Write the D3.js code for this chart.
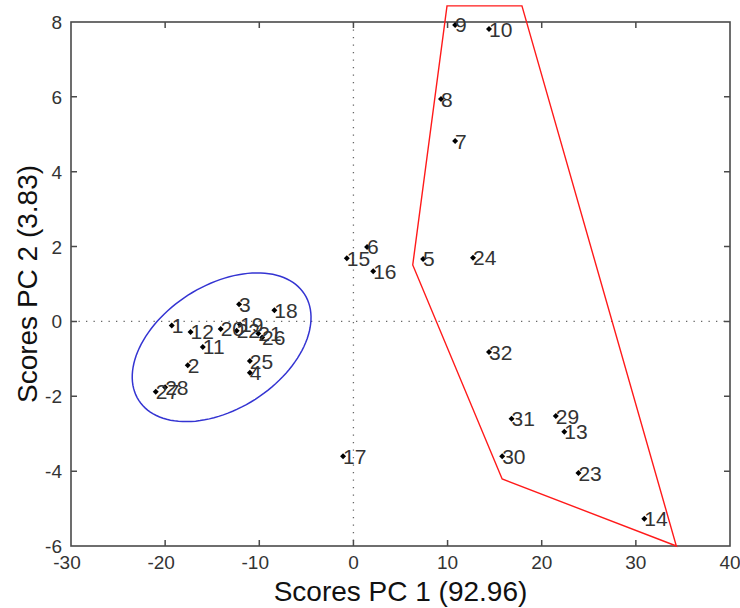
<!DOCTYPE html>
<html>
<head>
<meta charset="utf-8">
<script src="https://cdn.jsdelivr.net/npm/d3@7"></script>
<style>
  body { margin: 0; background: #fff; }
  text { font-family: Arial, "Liberation Sans", sans-serif; }
</style>
</head>
<body>
<svg id="chart" width="740" height="608"></svg>
<script>
"use strict";

// Step 1: PCA scores (sample number, PC1, PC2)
let sampleIds = [1, 2, 3, 4, 5, 6, 7, 8, 9, 10, 11, 12, 13, 14, 15, 16,
  17, 18, 19, 20, 21, 22, 23, 24, 25, 26, 27, 28, 29, 30, 31, 32];
let pc1 = [-19.3, -17.6, -12.15, -11.0, 7.4, 1.45, 10.8, 9.3, 10.8, 14.4, -16.0, -17.3,
  22.4, 30.9, -0.7, 2.1, -1.1, -8.4, -12.05, -14.1, -10.1, -12.4, 23.9, 12.7,
  -11.0, -9.7, -21.0, -20.0, 21.5, 15.8, 16.8, 14.4];
let pc2 = [-0.11, -1.17, 0.46, -1.37, 1.67, 1.99, 4.82, 5.94, 7.92, 7.81, -0.68, -0.28,
  -2.95, -5.27, 1.69, 1.34, -3.6, 0.3, -0.08, -0.2, -0.32, -0.25, -4.05, 1.7,
  -1.06, -0.43, -1.88, -1.76, -2.53, -3.6, -2.6, -0.82];

// Step 2: group outlines (red hull corners, blue ellipse centre + conjugate axes)
let hullX = [9.94, 17.9, 34.3, 15.8, 6.3];
let hullY = [8.43, 8.43, -6.0, -4.21, 1.51];
let ellipseCenter = [-14.0, -0.69];
let ellipseU = [8.8, 1.42];
let ellipseV = [-3.57, 1.39];

// Step 3: axis ticks
let xTicks = [-30, -20, -10, 0, 10, 20, 30, 40];
let yTicks = [-6, -4, -2, 0, 2, 4, 6, 8];

let svg = d3.select("#chart");
let plotLeft = 71, plotRight = 730, plotTop = 22, plotBottom = 546;

let xScale = d3.scaleLinear().domain([-30, 40]).range([plotLeft, plotRight]);
let yScale = d3.scaleLinear().domain([-6, 8]).range([plotBottom, plotTop]);

// Step 4: dotted zero lines
svg.append("line")
  .attr("x1", xScale(0)).attr("x2", xScale(0))
  .attr("y1", plotTop).attr("y2", plotBottom)
  .attr("stroke", "#666").attr("stroke-width", 1.3)
  .attr("stroke-dasharray", "1.3 6.2");
svg.append("line")
  .attr("x1", plotLeft).attr("x2", plotRight)
  .attr("y1", yScale(0)).attr("y2", yScale(0))
  .attr("stroke", "#666").attr("stroke-width", 1.3)
  .attr("stroke-dasharray", "1.3 6.2");

// Step 5: ellipse round the left group, built in data units
let ellipsePts = d3.range(0, 361, 3).map(a => {
  let t = a * Math.PI / 180;
  return [
    ellipseCenter[0] + ellipseU[0] * Math.cos(t) + ellipseV[0] * Math.sin(t),
    ellipseCenter[1] + ellipseU[1] * Math.cos(t) + ellipseV[1] * Math.sin(t)
  ];
});
svg.append("path")
  .attr("d", d3.line().x(d => xScale(d[0])).y(d => yScale(d[1]))(ellipsePts) + "Z")
  .attr("fill", "none")
  .attr("stroke", "#3434d2")
  .attr("stroke-width", 1.5);

// Step 6: frame with inward ticks on all four sides
svg.append("rect")
  .attr("x", plotLeft).attr("y", plotTop)
  .attr("width", plotRight - plotLeft).attr("height", plotBottom - plotTop)
  .attr("fill", "none").attr("stroke", "#4a4a4a").attr("stroke-width", 1.6);

let tickColor = "#4a4a4a";
svg.selectAll(".xtick")
  .data(xTicks.slice(1, -1))
  .enter().append("path")
  .attr("d", d => `M${xScale(d)},${plotBottom}v-6M${xScale(d)},${plotTop}v6`)
  .attr("stroke", tickColor).attr("stroke-width", 1.5);
svg.selectAll(".ytick")
  .data(yTicks.slice(1, -1))
  .enter().append("path")
  .attr("d", d => `M${plotLeft},${yScale(d)}h6M${plotRight},${yScale(d)}h-6`)
  .attr("stroke", tickColor).attr("stroke-width", 1.5);

// tick labels (minus sign hangs left of the tick, like the original)
svg.selectAll(".xlab")
  .data(xTicks)
  .enter().append("text")
  .attr("x", d => xScale(d) + (d < 0 ? -4 : 0))
  .attr("y", plotBottom + 23)
  .attr("text-anchor", "middle")
  .attr("fill", "#333")
  .style("font-size", "19px")
  .text(d => d);
svg.selectAll(".ylab")
  .data(yTicks)
  .enter().append("text")
  .attr("x", plotLeft - 9)
  .attr("y", d => yScale(d) + 7)
  .attr("text-anchor", "end")
  .attr("fill", "#333")
  .style("font-size", "19px")
  .text(d => d);

// Step 7: red hull round the right group
let hullPts = hullX.map((x, i) => [x, hullY[i]]);
svg.append("path")
  .attr("d", d3.line().x(d => xScale(d[0])).y(d => yScale(d[1]))(hullPts) + "Z")
  .attr("fill", "none")
  .attr("stroke", "#ff1a1a")
  .attr("stroke-width", 1.4);

// Step 8: sample markers and number labels (they overlap in the cluster, as in the original)
let points = sampleIds.map((id, i) => ({ id: id, x: pc1[i], y: pc2[i] }));

svg.selectAll(".marker")
  .data(points)
  .enter().append("path")
  .attr("d", d3.symbol().type(d3.symbolSquare).size(18))
  .attr("transform", d => `translate(${xScale(d.x)},${yScale(d.y)}) rotate(45)`)
  .attr("fill", "#000");

svg.selectAll(".ptlab")
  .data(points)
  .enter().append("text")
  .attr("x", d => xScale(d.x))
  .attr("y", d => yScale(d.y) + 7.5)
  .attr("fill", "#333")
  .style("font-size", "21px")
  .text(d => d.id);

// Step 9: axis titles
svg.append("text")
  .attr("x", (plotLeft + plotRight) / 2)
  .attr("y", 601)
  .attr("text-anchor", "middle")
  .attr("fill", "#111")
  .style("font-size", "28px")
  .text("Scores PC 1 (92.96)");

svg.append("text")
  .attr("transform", `translate(37, ${(plotTop + plotBottom) / 2}) rotate(-90)`)
  .attr("text-anchor", "middle")
  .attr("fill", "#111")
  .style("font-size", "28px")
  .text("Scores PC 2 (3.83)");
</script>
</body>
</html>
